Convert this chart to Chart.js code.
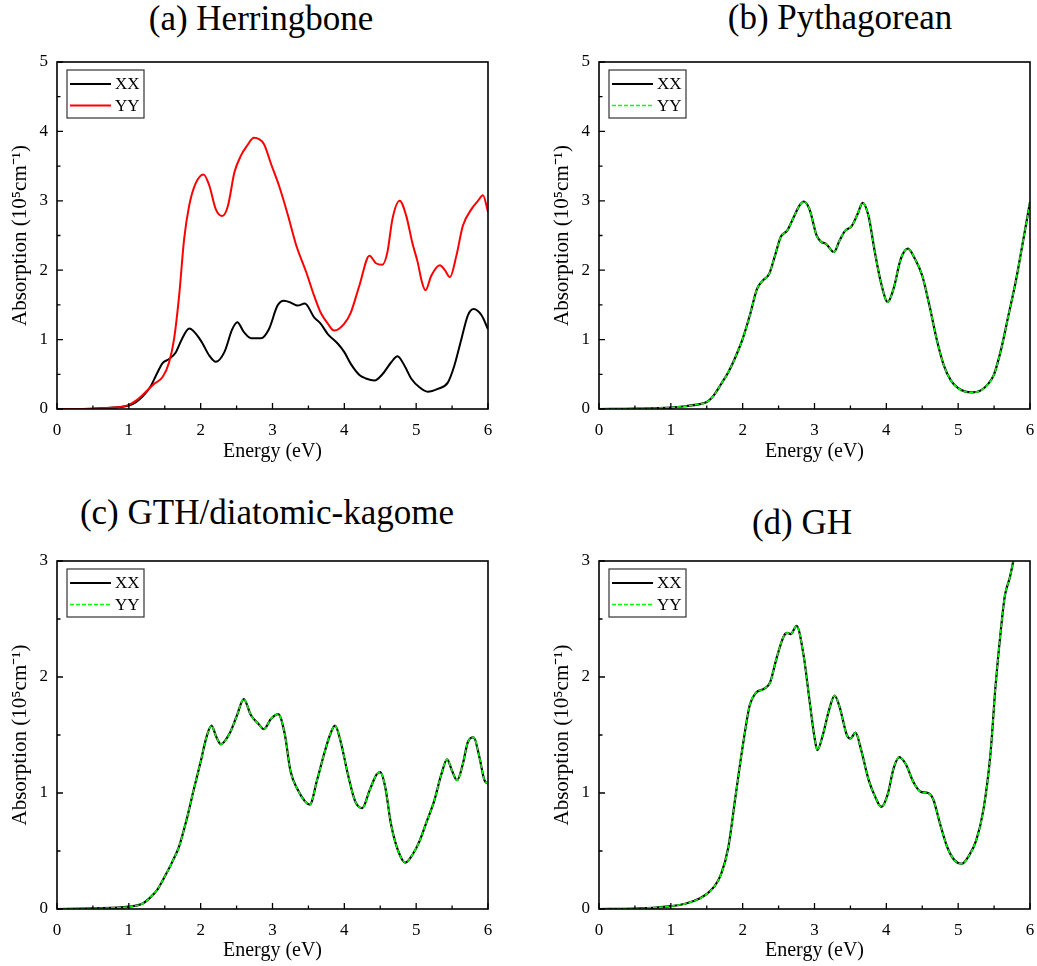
<!DOCTYPE html>
<html>
<head>
<meta charset="utf-8">
<script src="https://cdn.jsdelivr.net/npm/chart.js@4.4.1/dist/chart.umd.min.js"></script>
<style>
  body { margin: 0; background: #fff; }
  #page { position: relative; width: 1037px; height: 966px; overflow: hidden; }
  canvas { position: absolute; }
  .ttl { position: absolute; width: 440px; text-align: center; font-family: 'Liberation Serif', 'Times New Roman', serif;
         font-size: 35px; line-height: 35px; color: #000; white-space: nowrap; }
</style>
</head>
<body>
<div id="page">
  <div class="ttl" style="left:41px; top:1px;">(a) Herringbone</div>
  <div class="ttl" style="left:620px; top:0px;">(b) Pythagorean</div>
  <div class="ttl" style="left:47px; top:495px;">(c) GTH/diatomic-kagome</div>
  <div class="ttl" style="left:582px; top:505px;">(d) GH</div>
  <canvas id="cA" width="522" height="426" style="left:0px; top:41px;"></canvas>
  <canvas id="cB" width="510" height="426" style="left:542px; top:41px;"></canvas>
  <canvas id="cC" width="522" height="426" style="left:0px; top:540px;"></canvas>
  <canvas id="cD" width="510" height="426" style="left:542px; top:540px;"></canvas>
</div>
<script>
// (a) Herringbone
const herrXXE = [0, 0.5, 0.8, 1.0, 1.1, 1.2, 1.3, 1.4, 1.47, 1.56, 1.65, 1.74, 1.84, 2.0, 2.12, 2.21, 2.33, 2.44, 2.51, 2.60, 2.70, 2.84, 2.95, 3.07, 3.16, 3.26, 3.35, 3.45, 3.58, 3.67, 3.77, 3.91, 4.0, 4.09, 4.21, 4.30, 4.42, 4.53, 4.65, 4.74, 4.84, 4.93, 5.05, 5.16, 5.30, 5.44, 5.53, 5.63, 5.72, 5.80, 5.91, 6.0];
const herrXX = [0, 0.005, 0.02, 0.05, 0.1, 0.19, 0.32, 0.53, 0.66, 0.72, 0.81, 1.01, 1.16, 0.99, 0.77, 0.68, 0.82, 1.15, 1.25, 1.11, 1.02, 1.02, 1.15, 1.49, 1.56, 1.53, 1.49, 1.52, 1.32, 1.23, 1.08, 0.94, 0.82, 0.65, 0.49, 0.44, 0.41, 0.50, 0.67, 0.76, 0.62, 0.44, 0.31, 0.25, 0.29, 0.38, 0.62, 1.01, 1.35, 1.44, 1.35, 1.15];
const herrYYE = [0, 0.5, 0.8, 1.0, 1.1, 1.21, 1.35, 1.47, 1.56, 1.63, 1.70, 1.77, 1.84, 1.93, 2.04, 2.12, 2.21, 2.30, 2.38, 2.47, 2.56, 2.65, 2.74, 2.88, 2.98, 3.09, 3.21, 3.33, 3.47, 3.58, 3.67, 3.77, 3.86, 4.0, 4.09, 4.21, 4.35, 4.44, 4.53, 4.60, 4.67, 4.77, 4.86, 4.95, 5.02, 5.08, 5.13, 5.21, 5.33, 5.40, 5.47, 5.56, 5.65, 5.77, 5.86, 5.93, 6.0];
const herrYY = [0, 0.005, 0.02, 0.06, 0.12, 0.22, 0.36, 0.46, 0.67, 1.01, 1.63, 2.45, 2.93, 3.25, 3.38, 3.22, 2.88, 2.78, 2.93, 3.41, 3.65, 3.80, 3.91, 3.82, 3.53, 3.22, 2.81, 2.36, 1.97, 1.63, 1.39, 1.23, 1.13, 1.23, 1.39, 1.78, 2.21, 2.10, 2.08, 2.26, 2.74, 3.00, 2.79, 2.38, 2.12, 1.83, 1.71, 1.92, 2.07, 2.00, 1.90, 2.21, 2.64, 2.88, 3.00, 3.08, 2.84];

// (b) Pythagorean (XX and YY coincide)
const pythE = [0, 0.5, 1.0, 1.2, 1.4, 1.5, 1.55, 1.6, 1.7, 1.8, 1.9, 2.0, 2.1, 2.2, 2.28, 2.37, 2.45, 2.53, 2.62, 2.7, 2.79, 2.85, 2.93, 3.03, 3.09, 3.16, 3.27, 3.35, 3.42, 3.52, 3.6, 3.67, 3.75, 3.84, 3.93, 4.02, 4.1, 4.2, 4.3, 4.4, 4.5, 4.6, 4.7, 4.8, 4.9, 5.0, 5.1, 5.2, 5.3, 5.4, 5.5, 5.6, 5.7, 5.8, 5.9, 6.0];
const pythXX = [0, 0.005, 0.02, 0.04, 0.07, 0.1, 0.14, 0.2, 0.36, 0.53, 0.75, 1.01, 1.35, 1.73, 1.85, 1.95, 2.21, 2.48, 2.57, 2.74, 2.93, 2.99, 2.88, 2.50, 2.41, 2.38, 2.26, 2.43, 2.56, 2.64, 2.81, 2.97, 2.79, 2.26, 1.80, 1.54, 1.73, 2.16, 2.31, 2.16, 1.92, 1.49, 1.01, 0.63, 0.41, 0.30, 0.25, 0.24, 0.26, 0.34, 0.50, 0.87, 1.35, 1.83, 2.40, 2.98];
const pythYY = pythXX.slice();

// (c) GTH/diatomic-kagome
const gthE = [0, 0.5, 1.0, 1.2, 1.3, 1.4, 1.5, 1.6, 1.7, 1.8, 1.9, 2.0, 2.08, 2.15, 2.22, 2.28, 2.4, 2.5, 2.6, 2.7, 2.8, 2.88, 2.98, 3.08, 3.17, 3.25, 3.35, 3.45, 3.52, 3.62, 3.72, 3.8, 3.87, 3.95, 4.05, 4.15, 4.25, 4.35, 4.45, 4.5, 4.57, 4.65, 4.75, 4.85, 4.95, 5.05, 5.15, 5.25, 5.35, 5.43, 5.5, 5.57, 5.65, 5.72, 5.8, 5.88, 5.95, 6.0];
const gthXX = [0, 0.005, 0.02, 0.05, 0.1, 0.17, 0.28, 0.40, 0.54, 0.76, 1.02, 1.27, 1.48, 1.58, 1.48, 1.42, 1.51, 1.66, 1.81, 1.67, 1.60, 1.55, 1.64, 1.68, 1.51, 1.19, 1.03, 0.93, 0.90, 1.11, 1.34, 1.50, 1.58, 1.44, 1.16, 0.93, 0.87, 1.02, 1.16, 1.18, 1.05, 0.73, 0.50, 0.40, 0.47, 0.59, 0.76, 0.93, 1.16, 1.29, 1.19, 1.11, 1.25, 1.44, 1.48, 1.31, 1.11, 1.08];
const gthYY = gthXX.slice();

// (d) GH
const ghE = [0, 0.5, 1.0, 1.2, 1.4, 1.5, 1.6, 1.7, 1.8, 1.9, 2.0, 2.1, 2.18, 2.3, 2.38, 2.48, 2.57, 2.62, 2.67, 2.75, 2.85, 2.93, 3.0, 3.04, 3.12, 3.2, 3.28, 3.35, 3.45, 3.5, 3.57, 3.65, 3.75, 3.85, 3.93, 4.02, 4.1, 4.18, 4.27, 4.38, 4.48, 4.58, 4.65, 4.75, 4.85, 4.95, 5.05, 5.15, 5.25, 5.35, 5.45, 5.52, 5.6, 5.65, 5.72, 5.8];
const ghXX = [0, 0.003, 0.025, 0.045, 0.09, 0.13, 0.19, 0.3, 0.53, 0.97, 1.40, 1.76, 1.86, 1.90, 1.95, 2.18, 2.35, 2.38, 2.37, 2.44, 2.18, 1.80, 1.48, 1.37, 1.51, 1.71, 1.84, 1.74, 1.50, 1.47, 1.52, 1.37, 1.12, 0.96, 0.88, 0.99, 1.21, 1.31, 1.25, 1.09, 1.01, 1.00, 0.95, 0.73, 0.53, 0.42, 0.39, 0.46, 0.59, 0.85, 1.34, 1.92, 2.44, 2.70, 2.86, 3.1];
const ghYY = ghXX.slice();

const yTicksTop = [5, 5, 3, 3];
const FONT = "'Liberation Serif', 'Times New Roman', serif";

function pts(xs, ys) {
  return xs.map((x, i) => ({ x: x, y: ys[i] }));
}

// frame, inward ticks and boxed legend
const frameLegend = {
  id: 'frameLegend',
  afterDraw(chart) {
    const ctx = chart.ctx, a = chart.chartArea;
    const sx = chart.scales.x, sy = chart.scales.y;
    ctx.save();
    ctx.strokeStyle = '#000';
    ctx.lineWidth = 1.3;
    ctx.beginPath();
    for (let v = sx.min; v <= sx.max + 1e-6; v += 0.5) {
      const p = sx.getPixelForValue(v);
      const len = (Math.abs(v - Math.round(v)) < 1e-6) ? 6 : 3.5;
      ctx.moveTo(p, a.bottom); ctx.lineTo(p, a.bottom - len);
    }
    for (let v = sy.min; v <= sy.max + 1e-6; v += 0.5) {
      const p = sy.getPixelForValue(v);
      const len = (Math.abs(v - Math.round(v)) < 1e-6) ? 6 : 3.5;
      ctx.moveTo(a.left, p); ctx.lineTo(a.left + len, p);
    }
    ctx.stroke();
    ctx.lineWidth = 1.6;
    ctx.strokeRect(a.left, a.top, a.right - a.left, a.bottom - a.top);

    // legend box
    const bx = a.left + 10, by = a.top + 8;
    ctx.fillStyle = '#fff';
    ctx.fillRect(bx, by, 77, 48);
    ctx.lineWidth = 1.2;
    ctx.strokeStyle = '#333';
    ctx.strokeRect(bx, by, 77, 48);
    const ds = chart.data.datasets;
    ctx.font = '17px ' + FONT;
    ctx.textBaseline = 'middle';
    ds.forEach((d, i) => {
      const ry = by + 14 + i * 21.5;
      ctx.beginPath();
      ctx.strokeStyle = d.borderColor;
      ctx.lineWidth = d.borderWidth;
      ctx.setLineDash(d.borderDash || []);
      ctx.moveTo(bx + 3, ry); ctx.lineTo(bx + 44, ry);
      ctx.stroke();
      ctx.setLineDash([]);
      ctx.fillStyle = '#000';
      ctx.fillText(d.label, bx + 48, ry + 1);
    });
    ctx.restore();
  }
};

function makePanel(id, series, yMax, plotH) {
  const cv = document.getElementById(id);
  const W = cv.width, H = cv.height;
  const padTop = 21;
  const padRight = W - 57 - 431;
  return new Chart(cv, {
    type: 'line',
    data: {
      datasets: series.map(s => ({
        label: s.label,
        data: pts(s.xs, s.ys),
        borderColor: s.color,
        borderWidth: s.width,
        borderDash: s.dash,
        order: s.order,
        pointRadius: 0,
        fill: false,
        cubicInterpolationMode: 'monotone'
      }))
    },
    options: {
      responsive: false,
      animation: false,
      layout: { padding: { left: 0, top: padTop, right: padRight, bottom: 0 } },
      plugins: { legend: { display: false }, tooltip: { enabled: false } },
      scales: {
        x: {
          type: 'linear', min: 0, max: 6,
          grid: { display: false, drawTicks: false },
          border: { display: false },
          ticks: { stepSize: 1, color: '#000', padding: 11, font: { family: FONT, size: 17 } },
          title: { display: true, text: 'Energy (eV)', color: '#000',
                   padding: { top: 0, bottom: 3 }, font: { family: FONT, size: 20 } },
          afterFit: (sc) => { sc.height = H - padTop - plotH; }
        },
        y: {
          min: 0, max: yMax,
          grid: { display: false, drawTicks: false },
          border: { display: false },
          ticks: { stepSize: 1, color: '#000', padding: 9, font: { family: FONT, size: 17 } },
          title: { display: true, text: 'Absorption (10\u2075cm\u207B\u00B9)', color: '#000',
                   padding: { top: 8, bottom: 0 }, font: { family: FONT, size: 21 } },
          afterFit: (sc) => { sc.width = 57; }
        }
      }
    },
    plugins: [frameLegend]
  });
}

makePanel('cA', [
  { label: 'XX', xs: herrXXE, ys: herrXX, color: '#000000', width: 2, dash: [], order: 1 },
  { label: 'YY', xs: herrYYE, ys: herrYY, color: '#ff0000', width: 2, dash: [], order: 0 }
], yTicksTop[0], 347);

makePanel('cB', [
  { label: 'XX', xs: pythE, ys: pythXX, color: '#000000', width: 2.2, dash: [], order: 1 },
  { label: 'YY', xs: pythE, ys: pythYY, color: '#00ff00', width: 1.6, dash: [4, 2], order: 0 }
], yTicksTop[1], 347);

makePanel('cC', [
  { label: 'XX', xs: gthE, ys: gthXX, color: '#000000', width: 2.2, dash: [], order: 1 },
  { label: 'YY', xs: gthE, ys: gthYY, color: '#00ff00', width: 1.6, dash: [4, 2], order: 0 }
], yTicksTop[2], 348);

makePanel('cD', [
  { label: 'XX', xs: ghE, ys: ghXX, color: '#000000', width: 2.2, dash: [], order: 1 },
  { label: 'YY', xs: ghE, ys: ghYY, color: '#00ff00', width: 1.6, dash: [4, 2], order: 0 }
], yTicksTop[3], 348);
</script>
</body>
</html>
